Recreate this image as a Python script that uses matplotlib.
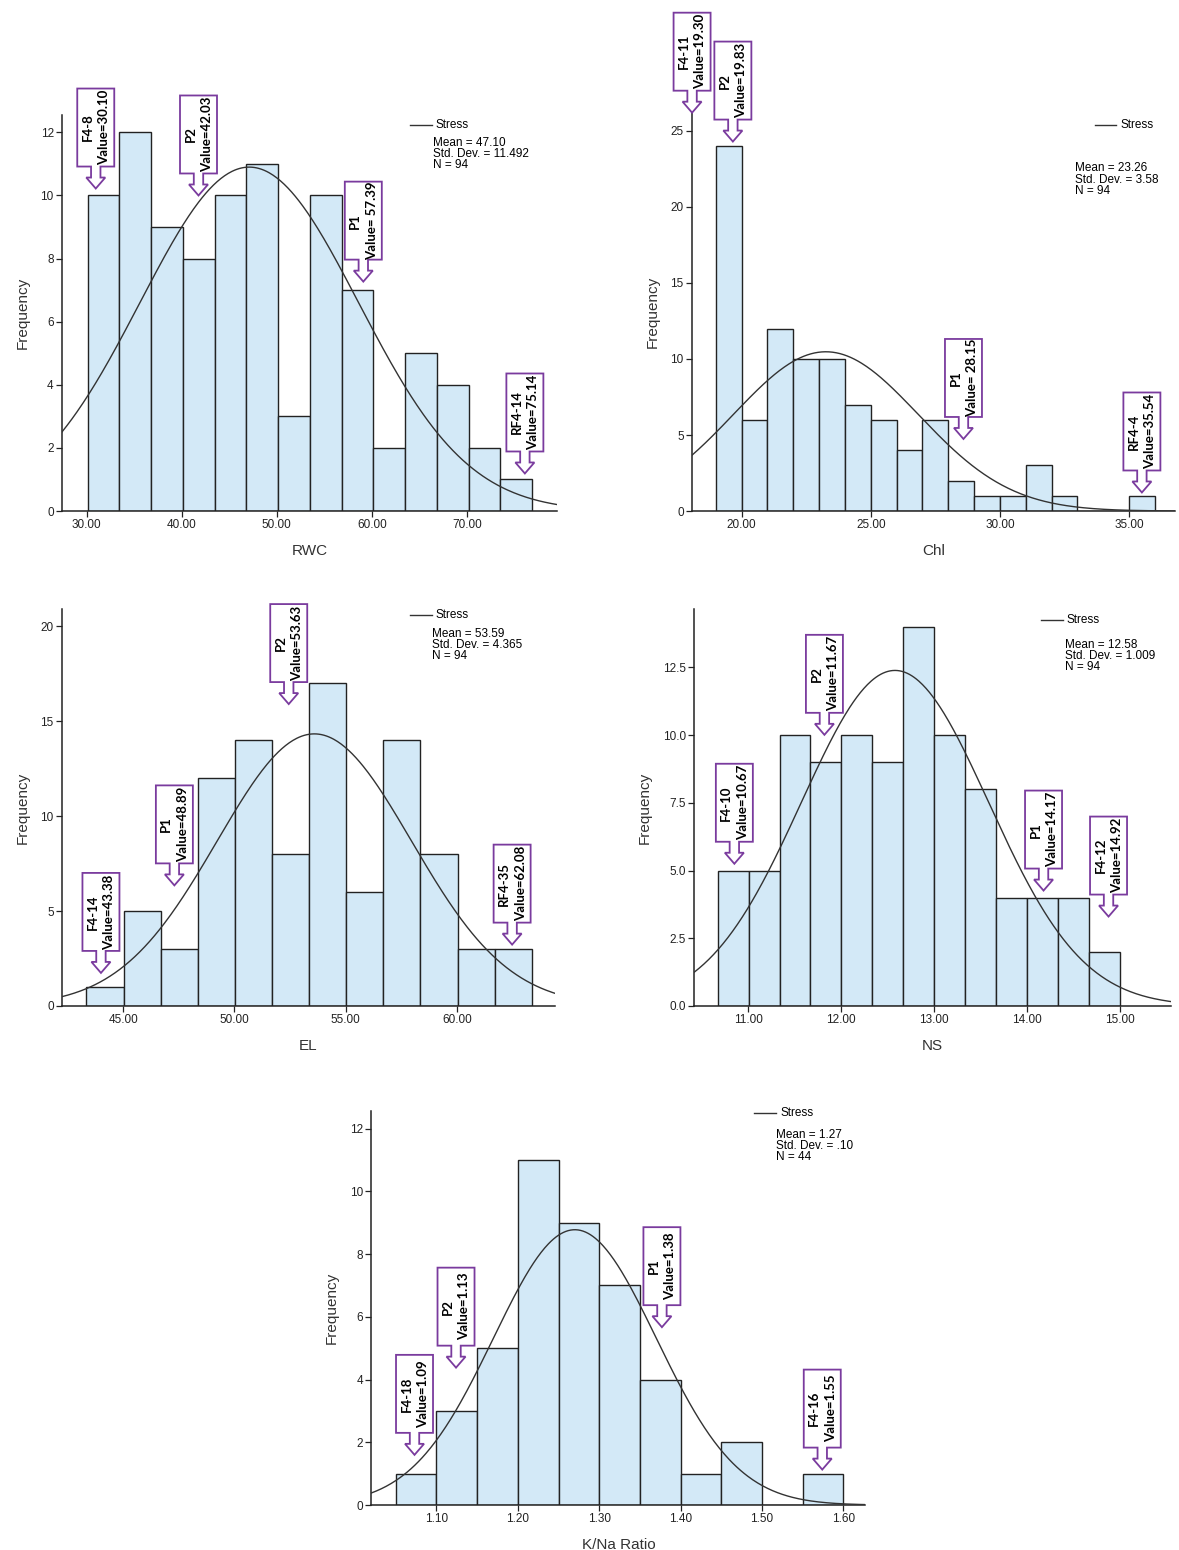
import numpy as np
import matplotlib
matplotlib.use("Agg")
import matplotlib.pyplot as plt
import matplotlib.transforms as mtransforms
from matplotlib.patches import Polygon

# ---- data ----
rwc_counts = [10, 12, 9, 8, 10, 11, 3, 10, 7, 2, 5, 4, 2, 1]
rwc_start, rwc_width = 30.10, 3.34
rwc_stats = (47.10, 11.492, 94)
rwc_notes = [("F4-8", "Value=30.10", 30.95, 10.22),
             ("P2", "Value=42.03", 41.76, 10.0),
             ("P1", "Value= 57.39", 59.1, 7.27),
             ("RF4-14", "Value=75.14", 76.1, 1.19)]

chl_counts = [24, 6, 12, 10, 10, 7, 6, 4, 6, 2, 1, 1, 3, 1, 0, 0, 1]
chl_start, chl_width = 19.0, 1.0
chl_stats = (23.26, 3.58, 94)
chl_notes = [("F4-11", "Value=19.30", 18.08, 26.2),
             ("P2", "Value=19.83", 19.66, 24.3),
             ("P1", "Value= 28.15", 28.59, 4.74),
             ("RF4-4", "Value=35.54", 35.5, 1.22)]

el_counts = [1, 5, 3, 12, 14, 8, 17, 6, 14, 8, 3, 3]
el_start, el_width = 43.35, 1.668
el_stats = (53.59, 4.365, 94)
el_notes = [("P2", "Value=53.63", 52.44, 15.9),
            ("P1", "Value=48.89", 47.3, 6.35),
            ("F4-14", "Value=43.38", 44.0, 1.74),
            ("RF4-35", "Value=62.08", 62.48, 3.23)]

ns_counts = [5, 5, 10, 9, 10, 9, 14, 10, 8, 4, 4, 4, 2]
ns_start, ns_width = 10.67, 0.3333
ns_stats = (12.58, 1.009, 94)
ns_notes = [("P2", "Value=11.67", 11.82, 10.01),
            ("F4-10", "Value=10.67", 10.85, 5.25),
            ("P1", "Value=14.17", 14.18, 4.26),
            ("F4-12", "Value=14.92", 14.88, 3.30)]

kna_counts = [1, 3, 5, 11, 9, 7, 4, 1, 2, 0, 1]
kna_start, kna_width = 1.05, 0.05
kna_stats = (1.27, 0.10, 44)
kna_stats_txt = "Mean = 1.27\nStd. Dev. = .10\nN = 44"
kna_notes = [("P1", "Value=1.38", 1.377, 5.67),
             ("P2", "Value=1.13", 1.124, 4.38),
             ("F4-18", "Value=1.09", 1.073, 1.60),
             ("F4-16", "Value=1.55", 1.574, 1.13)]

BAR = "#d3e9f7"
PURPLE = "#7a3b9e"
FONT = "Liberation Sans"

fig = plt.figure(figsize=(11.79, 15.5), dpi=100)


def callout(ax, x, y, label, value):
    # hollow down-arrow callout, drawn in pixels around the tip point
    tr = mtransforms.Affine2D() + mtransforms.ScaledTranslation(x, y, ax.transData)
    hw, sw, hh, sh = 9.5, 4.7, 11, 11
    bw, bh = 18.5, 78
    yb = hh + sh
    verts = [(0, 0), (hw, hh), (sw, hh), (sw, yb), (bw, yb), (bw, yb + bh),
             (-bw, yb + bh), (-bw, yb), (-sw, yb), (-sw, hh), (-hw, hh)]
    ax.add_patch(Polygon(verts, closed=True, transform=tr, facecolor="white",
                         edgecolor=PURPLE, lw=1.3, clip_on=False, zorder=5))
    ax.text(-8, yb + bh / 2, label, transform=tr, rotation=90, ha="center",
            va="center", fontsize=9.5, family="Lato", fontweight="bold",
            zorder=6, clip_on=False)
    ax.text(8.5, yb + bh / 2, value, transform=tr, rotation=90, ha="center",
            va="center", fontsize=9.5, family="Lato", fontweight="bold",
            zorder=6, clip_on=False)


def panel(rect, counts, start, width, stats, notes, xlim, ylim, xticks, yticks,
          xlabel, yfmt, leg, stats_txt=None):
    ax = fig.add_axes(rect)
    edges = start + width * np.arange(len(counts) + 1)
    ax.bar(edges[:-1], counts, width=width, align="edge", color=BAR,
           edgecolor="#222222", linewidth=1.0, zorder=2)
    ax.set_xlim(*xlim)
    ax.set_ylim(*ylim)
    mean, sd, n = stats
    xs = np.linspace(xlim[0], xlim[1], 400)
    ys = n * width / (sd * np.sqrt(2 * np.pi)) * np.exp(-0.5 * ((xs - mean) / sd) ** 2)
    ax.plot(xs, ys, color="#333333", lw=1.0, zorder=3)

    ax.set_xticks(xticks)
    ax.set_xticklabels(["%.2f" % t for t in xticks])
    ax.set_yticks(yticks)
    ax.set_yticklabels([yfmt % t for t in yticks])
    for s in ["top", "right"]:
        ax.spines[s].set_visible(False)
    for s in ["left", "bottom"]:
        ax.spines[s].set_color("#222222")
        ax.spines[s].set_linewidth(1.1)
    ax.tick_params(axis="both", direction="out", length=4, width=0.9,
                   colors="#222222", labelsize=8.5, pad=2)
    for lab in ax.get_xticklabels() + ax.get_yticklabels():
        lab.set_family(FONT)
    ax.set_xlabel(xlabel, fontsize=11, family=FONT, color="#333333", labelpad=9)
    ax.set_ylabel("Frequency", fontsize=11, family=FONT, color="#333333", labelpad=8)

    lx0, lx1, ly, sx, sy = leg
    ax.plot([lx0, lx1], [ly, ly], transform=ax.transAxes, color="#333333",
            lw=1.0, clip_on=False)
    ax.text(lx1 + 0.008, ly, "Stress", transform=ax.transAxes, fontsize=8.5,
            family=FONT, va="center", ha="left")
    if stats_txt is None:
        stats_txt = "Mean = %.2f\nStd. Dev. = %s\nN = %d" % (mean, repr(sd), n)
    ax.text(sx, sy, stats_txt, transform=ax.transAxes, fontsize=8.5, family=FONT,
            va="top", ha="left", linespacing=0.9)

    for label, value, tx, ty in notes:
        callout(ax, tx, ty, label, value)
    return ax


panel([0.0526, 0.6703, 0.42, 0.2555], rwc_counts, rwc_start, rwc_width,
      rwc_stats, rwc_notes, (27.4, 79.5), (0, 12.55), [30, 40, 50, 60, 70],
      range(0, 13, 2), "RWC", "%d", (0.703, 0.747, 0.975, 0.75, 0.945))

panel([0.587, 0.6703, 0.41, 0.257], chl_counts, chl_start, chl_width,
      chl_stats, chl_notes, (18.08, 36.8), (0, 26.2), [20, 25, 30, 35],
      range(0, 26, 5), "Chl", "%d", (0.834, 0.878, 0.97, 0.793, 0.875))

panel([0.0526, 0.351, 0.418, 0.256], el_counts, el_start, el_width,
      el_stats, el_notes, (42.25, 64.4), (0, 20.9), [45, 50, 55, 60],
      range(0, 21, 5), "EL", "%d", (0.706, 0.75, 0.985, 0.75, 0.952))

panel([0.589, 0.351, 0.404, 0.256], ns_counts, ns_start, ns_width,
      ns_stats, ns_notes, (10.42, 15.55), (0, 14.65), [11, 12, 13, 14, 15],
      [0, 2.5, 5.0, 7.5, 10.0, 12.5], "NS", "%.1f",
      (0.727, 0.773, 0.972, 0.777, 0.925))

panel([0.315, 0.029, 0.419, 0.254], kna_counts, kna_start, kna_width,
      kna_stats, kna_notes, (1.02, 1.627), (0, 12.55),
      [1.1, 1.2, 1.3, 1.4, 1.5, 1.6], range(0, 13, 2), "K/Na Ratio", "%d",
      (0.775, 0.820, 0.995, 0.82, 0.955), stats_txt=kna_stats_txt)

fig.savefig("out.png", dpi=100, facecolor="white")
